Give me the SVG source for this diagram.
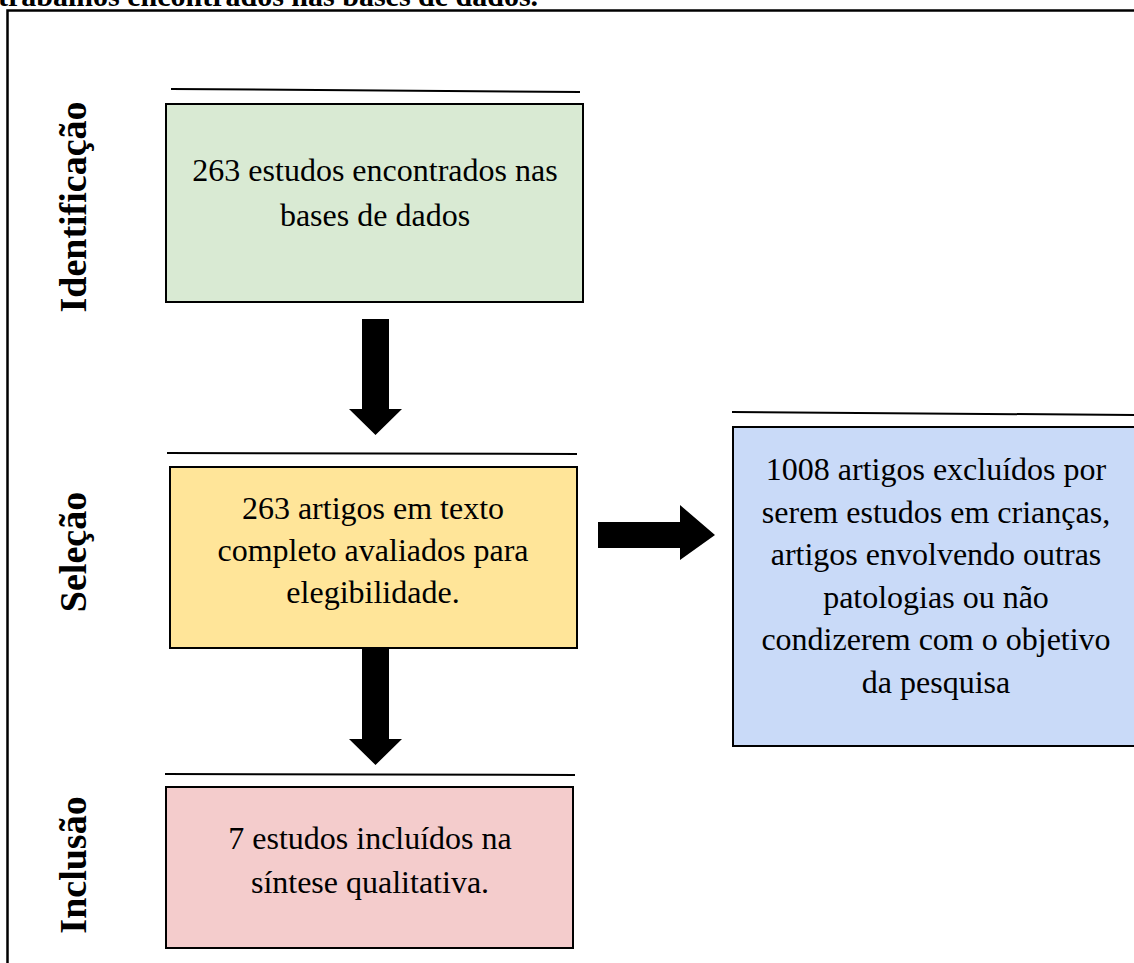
<svg xmlns="http://www.w3.org/2000/svg" width="1134" height="963" viewBox="0 0 1134 963">
<defs>
<style>
.box{stroke:#000;stroke-width:2}
.t{font-family:"Liberation Serif","Times New Roman",serif;font-size:32px;fill:#000;text-anchor:middle}
.lab{font-family:"Liberation Serif","Times New Roman",serif;font-size:38px;font-weight:bold;fill:#000;text-anchor:middle}
.rule{stroke:#000;stroke-width:2;fill:none}
.arr{fill:#000}
</style>
</defs>
<rect x="0" y="0" width="1134" height="963" fill="#fff"/>
<text x="-2" y="6" font-family="'Liberation Serif','Times New Roman',serif" font-size="30" font-weight="bold" fill="#000">trabalhos encontrados nas bases de dados.</text>
<g id="frame">
<path d="M7.5 963 V10.5 H1134" fill="none" stroke="#000" stroke-width="2.5"/>
</g>
<g id="labels">
<text class="lab" transform="translate(86,207) rotate(-90)">Identificação</text>
<text class="lab" transform="translate(86,552) rotate(-90)">Seleção</text>
<text class="lab" transform="translate(86,865) rotate(-90)">Inclusão</text>
</g>
<g id="rules">
<line class="rule" x1="171" y1="89" x2="580" y2="92"/>
<line class="rule" x1="167" y1="453" x2="577" y2="454"/>
<line class="rule" x1="732" y1="412" x2="1134" y2="415"/>
<line class="rule" x1="165" y1="774" x2="575" y2="775"/>
</g>
<g id="node-identificacao">
<rect class="box" x="166" y="104" width="417" height="198" fill="#d9ead3"/>
<text class="t" x="375" y="181">263 estudos encontrados nas</text>
<text class="t" x="375" y="226">bases de dados</text>
</g>
<g id="node-selecao">
<rect class="box" x="170" y="467" width="407" height="181" fill="#ffe599"/>
<text class="t" x="373" y="519">263 artigos em texto</text>
<text class="t" x="373" y="561">completo avaliados para</text>
<text class="t" x="373" y="603">elegibilidade.</text>
</g>
<g id="node-excluidos">
<rect class="box" x="733" y="427" width="410" height="319" fill="#c9daf8"/>
<text class="t" x="936" y="480">1008 artigos excluídos por</text>
<text class="t" x="936" y="523">serem estudos em crianças,</text>
<text class="t" x="936" y="565">artigos envolvendo outras</text>
<text class="t" x="936" y="608">patologias ou não</text>
<text class="t" x="936" y="650">condizerem com o objetivo</text>
<text class="t" x="936" y="693">da pesquisa</text>
</g>
<g id="node-inclusao">
<rect class="box" x="166" y="787" width="407" height="161" fill="#f4cccc"/>
<text class="t" x="370" y="849">7 estudos incluídos na</text>
<text class="t" x="370" y="893">síntese qualitativa.</text>
</g>
<g id="connectors">
<polygon class="arr" points="362,319 389,319 389,409 402,409 375.5,435 349,409 362,409"/>
<polygon class="arr" points="598,522 680,522 680,505 715,535 680,560 680,548 598,548"/>
<polygon class="arr" points="362,649 389,649 389,739 402,739 375.5,765 349,739 362,739"/>
</g>
</svg>
